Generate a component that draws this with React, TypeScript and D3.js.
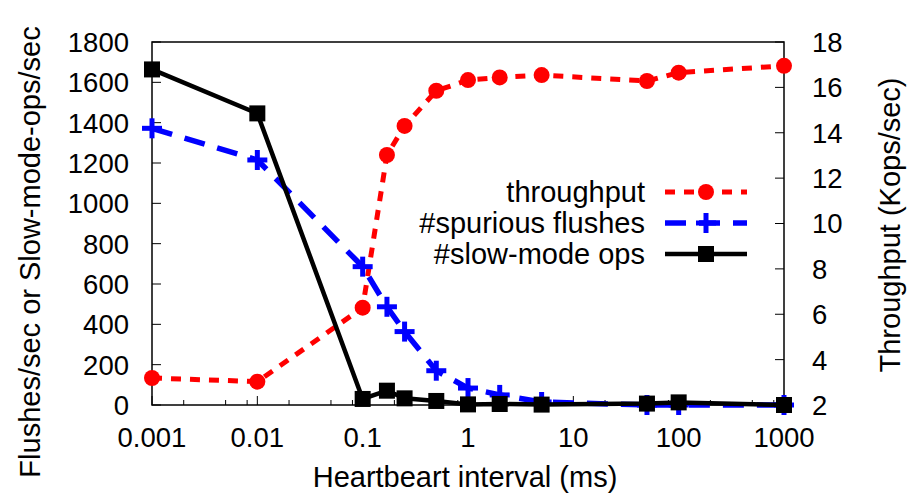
import React from "react";
import * as d3 from "d3";

const xValues = [0.001, 0.01, 0.1, 0.17, 0.25, 0.5, 1, 2, 5, 50, 100, 1000];
const throughput = [3.19, 3.03, 6.29, 13.02, 14.3, 15.85, 16.32, 16.44, 16.54, 16.28, 16.65, 16.95];
const spurious = [1372, 1215, 686, 487, 364, 170, 84, 50, 15, 0, 0, 0];
const slowMode = [1664, 1446, 30, 71, 33, 20, 3, 5, 2, 7, 13, 0];

const xTicks = [0.001, 0.01, 0.1, 1, 10, 100, 1000];
const xTickLabels = ["0.001", "0.01", "0.1", "1", "10", "100", "1000"];
const yTicks = [0, 200, 400, 600, 800, 1000, 1200, 1400, 1600, 1800];
const y2Ticks = [2, 4, 6, 8, 10, 12, 14, 16, 18];
const minorMult = [2, 5, 8];

const legendLabels = ["throughput", "#spurious flushes", "#slow-mode ops"];

const W = 909, H = 498;
const L = 152, R = 784, T = 42, B = 405;
const FONT = "'Liberation Sans', Arial, Helvetica, sans-serif";

export default function App() {
  const x = d3.scaleLog().domain([0.001, 1000]).range([L, R]);
  const y = d3.scaleLinear().domain([0, 1800]).range([B, T]);
  const y2 = d3.scaleLinear().domain([2, 18]).range([B, T]);

  const minorTicks: number[] = [];
  for (let d = 0.001; d < 999; d *= 10) {
    for (const m of minorMult) minorTicks.push(d * m);
  }

  const lineT = d3.line<number>().x((_, i) => x(xValues[i])).y((v) => y2(v));
  const lineY = d3.line<number>().x((_, i) => x(xValues[i])).y((v) => y(v));

  const red = "#ff0000";
  const blue = "#0000ff";
  const black = "#000000";

  const cross = (cx: number, cy: number, key: string) => (
    <g key={key}>
      <line x1={cx - 10} x2={cx + 10} y1={cy} y2={cy} stroke={blue} strokeWidth={5} />
      <line x1={cx} x2={cx} y1={cy - 10} y2={cy + 10} stroke={blue} strokeWidth={5} />
    </g>
  );

  const legY = [192, 223, 254];
  const legX1 = 665, legX2 = 747, legM = 706;

  return (
    <div style={{ position: "fixed", left: 0, top: 0 }}>
      <svg width={W} height={H} viewBox={`0 0 ${W} ${H}`} style={{ display: "block", background: "#fff" }}>
        <rect x={0} y={0} width={W} height={H} fill="#fff" />
        {/* ticks */}
        {yTicks.map((t) => (
          <line key={"yt" + t} x1={L} x2={L + 9} y1={y(t)} y2={y(t)} stroke="#000" strokeWidth={1} />
        ))}
        {y2Ticks.map((t) => (
          <line key={"y2t" + t} x1={R - 9} x2={R} y1={y2(t)} y2={y2(t)} stroke="#000" strokeWidth={1} />
        ))}
        {xTicks.map((t) => (
          <line key={"xt" + t} x1={x(t)} x2={x(t)} y1={B} y2={B - 9} stroke="#000" strokeWidth={1} />
        ))}
        {minorTicks.map((t, i) => (
          <line key={"mt" + i} x1={x(t)} x2={x(t)} y1={B} y2={B - 5} stroke="#000" strokeWidth={1} />
        ))}
        {/* border */}
        <rect x={L} y={T} width={R - L} height={B - T} fill="none" stroke="#000" strokeWidth={1.5} />

        {/* tick labels */}
        <g fontFamily={FONT} fontSize={27.5} fill="#000">
          {yTicks.map((t) => (
            <text key={"yl" + t} x={L - 23} y={y(t)} dy="0.36em" textAnchor="end">{t}</text>
          ))}
          {y2Ticks.map((t) => (
            <text key={"y2l" + t} x={R + 28} y={y2(t)} dy="0.36em" textAnchor="start">{t}</text>
          ))}
          {xTicks.map((t, i) => (
            <text key={"xl" + t} x={x(t)} y={447} textAnchor="middle">{xTickLabels[i]}</text>
          ))}
        </g>

        {/* axis labels */}
        <g fontFamily={FONT} fontSize={29} fill="#000">
          <text x={465} y={487} textAnchor="middle">Heartbeart interval (ms)</text>
          <text transform="translate(40,252) rotate(-90)" textAnchor="middle">Flushes/sec or Slow-mode-ops/sec</text>
          <text transform="translate(900,225) rotate(-90)" textAnchor="middle">Throughput (Kops/sec)</text>
        </g>

        {/* throughput */}
        <path d={lineT(throughput) || ""} fill="none" stroke={red} strokeWidth={5} strokeDasharray="10,9" />
        {throughput.map((v, i) => (
          <circle key={"c" + i} cx={x(xValues[i])} cy={y2(v)} r={8} fill={red} />
        ))}
        {/* spurious */}
        <path d={lineY(spurious) || ""} fill="none" stroke={blue} strokeWidth={5.5} strokeDasharray="21,13" />
        {spurious.map((v, i) => cross(x(xValues[i]), y(v), "p" + i))}
        {/* slow-mode */}
        <path d={lineY(slowMode) || ""} fill="none" stroke={black} strokeWidth={4.5} />
        {slowMode.map((v, i) => (
          <rect key={"s" + i} x={x(xValues[i]) - 8} y={y(v) - 8} width={16} height={16} fill={black} />
        ))}

        {/* legend */}
        <g fontFamily={FONT} fontSize={29} fill="#000">
          {legendLabels.map((l, i) => (
            <text key={"lg" + i} x={645} y={legY[i]} dy="0.36em" textAnchor="end">{l}</text>
          ))}
        </g>
        <line x1={legX1} x2={legX2} y1={legY[0]} y2={legY[0]} stroke={red} strokeWidth={5} strokeDasharray="10,9" />
        <circle cx={legM} cy={legY[0]} r={8} fill={red} />
        <line x1={legX1} x2={legX2} y1={legY[1]} y2={legY[1]} stroke={blue} strokeWidth={5.5} strokeDasharray="21,13" />
        {cross(legM, legY[1], "lgc")}
        <line x1={legX1} x2={legX2} y1={legY[2]} y2={legY[2]} stroke={black} strokeWidth={4.5} />
        <rect x={legM - 8} y={legY[2] - 8} width={16} height={16} fill={black} />
      </svg>
    </div>
  );
}
